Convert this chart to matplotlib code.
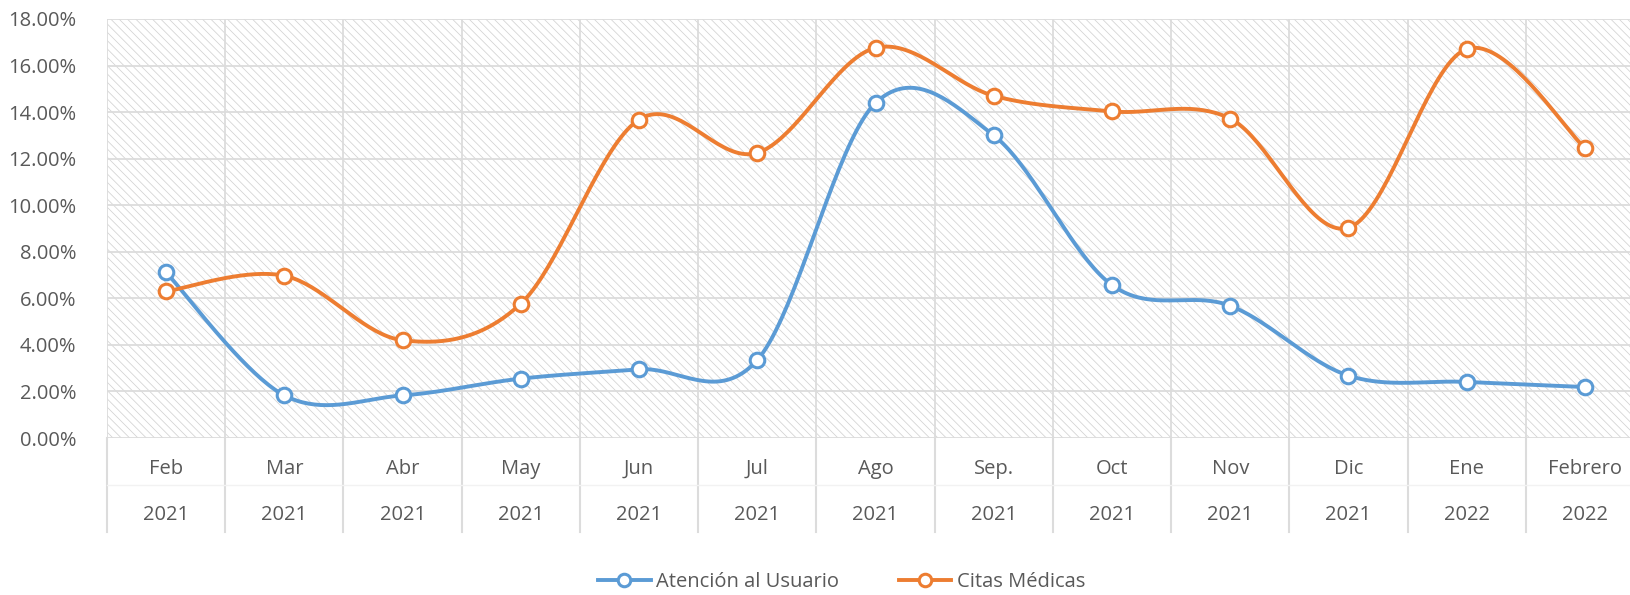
#!/usr/bin/env python3
"""Atención al Usuario vs Citas Médicas, Feb 2021 - Feb 2022 (Excel-style smoothed lines)."""

import matplotlib

matplotlib.use("Agg")
import matplotlib.pyplot as plt
import matplotlib.transforms as mtransforms
import numpy as np
from matplotlib.patches import Rectangle
from matplotlib.ticker import FuncFormatter

MONTHS = ["Feb", "Mar", "Abr", "May", "Jun", "Jul", "Ago", "Sep.", "Oct", "Nov", "Dic", "Ene", "Febrero"]
YEARS = ["2021"] * 11 + ["2022"] * 2

ATENCION = [7.11, 1.83, 1.83, 2.55, 2.95, 3.35, 14.39, 13.00, 6.57, 5.68, 2.68, 2.41, 2.19]
CITAS = [6.30, 6.97, 4.20, 5.77, 13.68, 12.25, 16.76, 14.70, 14.03, 13.72, 9.03, 16.71, 12.47]

BLUE = "#5B9BD5"
ORANGE = "#ED7D31"
TEXT = "#595959"
GRID = "#dcdcdc"
FS = 14.5

plt.rcParams["font.family"] = ["Open Sans", "DejaVu Sans"]
plt.rcParams["hatch.linewidth"] = 0.55
plt.rcParams["hatch.color"] = "#d2d2d2"


def smooth(ys, n=40):
    """Bezier smoothing like Excel's 'smoothed line'."""
    y = np.asarray(ys, float)
    x = np.arange(len(y), dtype=float)
    pad_x = np.concatenate([[x[0]], x, [x[-1]]])
    pad_y = np.concatenate([[y[0]], y, [y[-1]]])
    xs, yo = [], []
    t = np.linspace(0, 1, n)
    for i in range(len(y) - 1):
        p0x, p0y = pad_x[i + 1], pad_y[i + 1]
        p3x, p3y = pad_x[i + 2], pad_y[i + 2]
        c1x = p0x + (pad_x[i + 2] - pad_x[i]) / 6
        c1y = p0y + (pad_y[i + 2] - pad_y[i]) / 6
        c2x = p3x - (pad_x[i + 3] - pad_x[i + 1]) / 6
        c2y = p3y - (pad_y[i + 3] - pad_y[i + 1]) / 6
        b = [(1 - t) ** 3, 3 * (1 - t) ** 2 * t, 3 * (1 - t) * t ** 2, t ** 3]
        xs.append(b[0] * p0x + b[1] * c1x + b[2] * c2x + b[3] * p3x)
        yo.append(b[0] * p0y + b[1] * c1y + b[2] * c2y + b[3] * p3y)
    return np.concatenate(xs), np.concatenate(yo)


fig = plt.figure(figsize=(16.31, 5.95), dpi=100)
ax = fig.add_axes([107 / 1631, 157 / 595, 1537 / 1631, 419 / 595])
n = len(MONTHS)
ax.set_xlim(-0.5, n - 0.5)
ax.set_ylim(0, 18)

ax.add_patch(Rectangle((-0.5, 0), n, 18, facecolor="white", edgecolor="#d2d2d2",
                       hatch="\\" * 4, linewidth=0, zorder=0))

for k in range(0, 20, 2):
    ax.axhline(k, color=GRID, lw=1.3, zorder=1)
for k in range(n + 1):
    ax.axvline(k - 0.5, color=GRID, lw=1.3, zorder=1)

for vals, color, label in [(ATENCION, BLUE, "Atención al Usuario"), (CITAS, ORANGE, "Citas Médicas")]:
    sx, sy = smooth(vals)
    ax.plot(sx, sy, color=color, lw=2.8, zorder=3, solid_capstyle="round")
    ax.plot(np.arange(n), vals, ls="none", marker="o", ms=10.5, mfc="white", mec=color,
            mew=2.2, zorder=4)
    ax.plot([], [], color=color, lw=2.8, marker="o", ms=9, mfc="white", mec=color,
            mew=2.2, label=label)

for s in ax.spines.values():
    s.set_visible(False)
ax.set_yticks(range(0, 20, 2))
ax.yaxis.set_major_formatter(FuncFormatter(lambda v, _: f"{v:.2f}%"))
ax.tick_params(axis="y", length=0, pad=22, labelsize=FS, labelcolor=TEXT)
ax.set_xticks([])

trans = mtransforms.blended_transform_factory(ax.transData, ax.transAxes)
for i in range(n):
    ax.text(i, -0.074, MONTHS[i], transform=trans, ha="center", va="center",
            fontsize=FS, color=TEXT)
    ax.text(i, -0.184, YEARS[i], transform=trans, ha="center", va="center",
            fontsize=FS, color=TEXT)
for k in range(n + 1):
    ax.plot([k - 0.5, k - 0.5], [0, -0.224], transform=trans, color=GRID, lw=1.5,
            clip_on=False)
ax.plot([-0.5, n - 0.5], [-0.112, -0.112], transform=trans, color="#f2f2f2", lw=1,
        clip_on=False)

fig.legend(loc="center", bbox_to_anchor=(0.516, 0.022), ncol=2, frameon=False,
           fontsize=FS, labelcolor=TEXT, handlelength=2.6, handletextpad=0.25,
           columnspacing=3.0)

fig.savefig("out.png", dpi=100, facecolor="white")
